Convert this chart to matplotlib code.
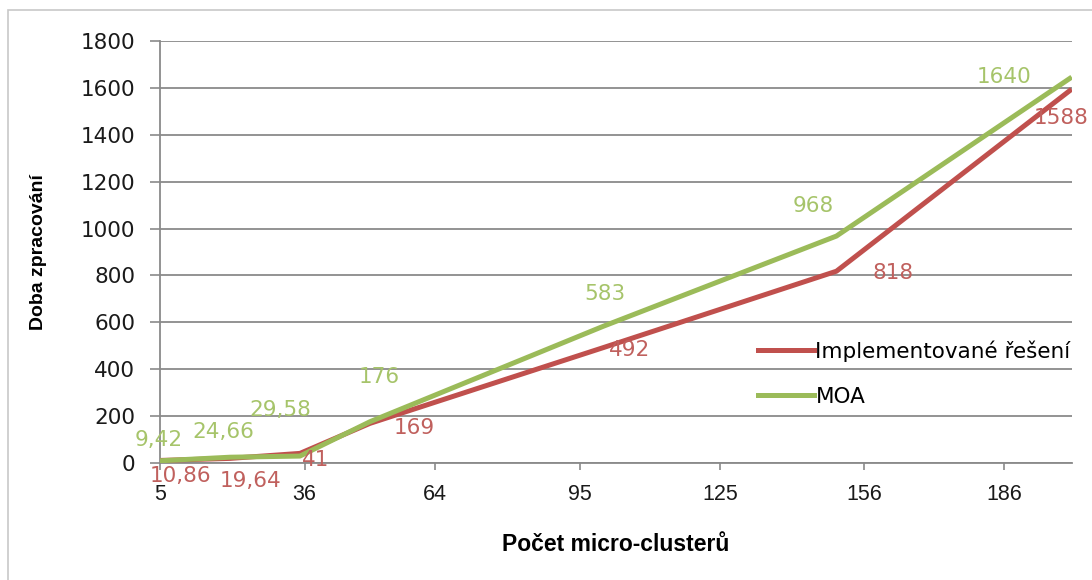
import matplotlib
matplotlib.use("Agg")
import matplotlib.pyplot as plt
from matplotlib.patches import Rectangle

# number of micro-clusters and processing time for both implementations
clusters = [5, 20, 35, 50, 100, 150, 200]
impl_times = [10.86, 19.64, 41, 169, 492, 818, 1588]
moa_times = [9.42, 24.66, 29.58, 176, 583, 968, 1640]
impl_text = ["10,86", "19,64", "41", "169", "492", "818", "1588"]
moa_text = ["9,42", "24,66", "29,58", "176", "583", "968", "1640"]
x_ticks = [5, 36, 64, 95, 125, 156, 186]
y_ticks = [0, 200, 400, 600, 800, 1000, 1200, 1400, 1600, 1800]

RED = "#C0504D"
GREEN = "#9BBB59"
GRID = "#8A8A8A"

# label offsets in points
moa_off = [(-1, 15), (-5, 18), (-14, 33), (7, 32), (1, 23), (-17, 22), (-47, 1)]
impl_off = [(15, -11), (15, -16), (11, -5), (32, -3), (19, -2), (41, -1), (-6, -20)]

fig = plt.figure(figsize=(10.92, 5.8), dpi=100)
fig.patches.append(Rectangle((8 / 1092, -0.1), 1.2, 1 - 10 / 580 + 0.1,
                             transform=fig.transFigure, fill=False,
                             edgecolor="#C8C8C8", linewidth=1.2))
ax = fig.add_axes([160 / 1092, 1 - 463 / 580, (1072 - 160) / 1092, (463 - 41) / 580])

ax.plot(clusters, impl_times, color=RED, linewidth=3.6, label="Implementované řešení",
        solid_joinstyle="round", zorder=3)
ax.plot(clusters, moa_times, color=GREEN, linewidth=3.6, label="MOA",
        solid_joinstyle="round", zorder=4)

for x, y, t, off in zip(clusters, moa_times, moa_text, moa_off):
    ax.annotate(t, (x, y), xytext=off, textcoords="offset points", ha="center",
                va="center", color="#A6C46A", fontsize=15.5, zorder=5)
for x, y, t, off in zip(clusters, impl_times, impl_text, impl_off):
    ax.annotate(t, (x, y), xytext=off, textcoords="offset points", ha="center",
                va="center", color="#C0605D", fontsize=15.5, zorder=5)

ax.set_xlim(5, 200.5)
ax.set_ylim(0, 1800)
ax.set_xticks(x_ticks)
ax.set_yticks(y_ticks)
ax.tick_params(axis="y", length=7, width=1.2, color=GRID, pad=11, labelsize=15.5,
               labelcolor="#1a1a1a")
ax.tick_params(axis="x", length=5, width=1.2, color=GRID, pad=10, labelsize=15.5,
               labelcolor="#1a1a1a")
for lab in ax.get_xticklabels():
    lab.set_fontfamily("Liberation Sans")

ax.grid(axis="y", color=GRID, linewidth=1.3)
ax.set_axisbelow(True)
for side in ["top", "right"]:
    ax.spines[side].set_visible(False)
ax.spines["left"].set_color(GRID)
ax.spines["bottom"].set_color(GRID)
ax.spines["left"].set_linewidth(1.3)
ax.spines["bottom"].set_linewidth(1.3)

ax.set_xlabel("Počet micro-clusterů", fontsize=16.5, fontweight="bold",
              family="Liberation Sans", labelpad=20)
ax.set_ylabel("Doba zpracování", fontsize=14, fontweight="bold",
              family="Liberation Sans", labelpad=24)

ax.legend(loc="upper left", bbox_to_anchor=(739 / 1092, 1 - 321 / 580),
          bbox_transform=fig.transFigure, frameon=False, fontsize=15.5,
          handlelength=2.6, handletextpad=0.05, labelspacing=1.15)

fig.savefig("out.png", dpi=100)
